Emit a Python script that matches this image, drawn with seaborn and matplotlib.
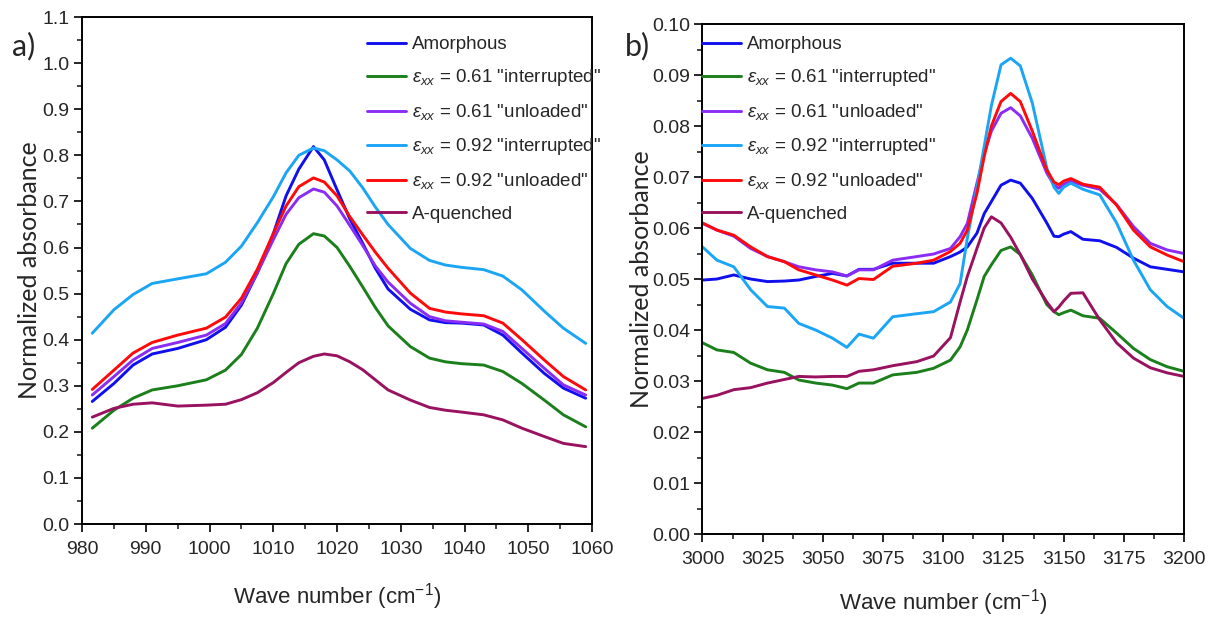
import pandas as pd
import seaborn as sns
import matplotlib.pyplot as plt
from matplotlib import font_manager
from matplotlib.ticker import MultipleLocator

# ---- panel a) 980-1060 cm-1
wn_a = [981.6, 985, 988, 991, 995, 999.5, 1002.5, 1005, 1007.5, 1010, 1012, 1014, 1016.3, 1018, 1020,
        1022, 1024, 1026, 1028, 1031.5, 1034.5, 1037, 1039.5, 1043, 1046, 1049, 1052.5, 1055.5, 1059]
amorphous_a = [0.266, 0.305, 0.345, 0.369, 0.381, 0.400, 0.427, 0.475, 0.545, 0.630, 0.712, 0.770, 0.819,
               0.790, 0.725, 0.662, 0.610, 0.555, 0.510, 0.466, 0.443, 0.437, 0.436, 0.432, 0.410, 0.371,
               0.327, 0.295, 0.273]
int061_a = [0.208, 0.247, 0.273, 0.291, 0.300, 0.313, 0.334, 0.368, 0.425, 0.500, 0.565, 0.607, 0.630,
            0.625, 0.600, 0.559, 0.515, 0.470, 0.430, 0.385, 0.360, 0.352, 0.348, 0.345, 0.331, 0.305,
            0.269, 0.237, 0.211]
unl061_a = [0.280, 0.320, 0.356, 0.381, 0.394, 0.410, 0.435, 0.480, 0.545, 0.617, 0.672, 0.708, 0.727,
            0.720, 0.690, 0.648, 0.605, 0.560, 0.525, 0.479, 0.450, 0.441, 0.438, 0.434, 0.418, 0.381,
            0.338, 0.302, 0.280]
int092_a = [0.414, 0.465, 0.498, 0.522, 0.532, 0.543, 0.568, 0.603, 0.654, 0.710, 0.762, 0.800, 0.816,
            0.810, 0.790, 0.766, 0.730, 0.688, 0.650, 0.598, 0.572, 0.562, 0.557, 0.552, 0.538, 0.508,
            0.462, 0.425, 0.392]
unl092_a = [0.292, 0.334, 0.371, 0.394, 0.410, 0.425, 0.449, 0.490, 0.553, 0.630, 0.690, 0.732, 0.751,
            0.742, 0.712, 0.667, 0.628, 0.590, 0.555, 0.501, 0.468, 0.460, 0.456, 0.452, 0.436, 0.400,
            0.356, 0.320, 0.291]
quench_a = [0.232, 0.251, 0.260, 0.263, 0.256, 0.258, 0.260, 0.270, 0.285, 0.307, 0.329, 0.350, 0.364,
            0.369, 0.365, 0.352, 0.335, 0.313, 0.291, 0.269, 0.253, 0.247, 0.243, 0.237, 0.226, 0.208,
            0.190, 0.175, 0.168]

# ---- panel b) 3000-3200 cm-1
wn_b = [3000, 3006, 3013, 3020, 3027, 3034, 3040, 3047, 3054, 3060, 3065, 3071, 3079, 3089, 3096, 3103,
        3107, 3110, 3114, 3117, 3120, 3124, 3128, 3132, 3137, 3143, 3146, 3148, 3150, 3153, 3158, 3165,
        3172, 3179, 3186, 3193, 3200]
amorphous_b = [0.0498, 0.0500, 0.0508, 0.0500, 0.0495, 0.0496, 0.0498, 0.0505, 0.0511, 0.0506, 0.0519,
               0.0519, 0.0531, 0.0531, 0.0531, 0.0544, 0.0553, 0.0563, 0.0590, 0.0628, 0.0652, 0.0684,
               0.0694, 0.0688, 0.0658, 0.0610, 0.0584, 0.0583, 0.0588, 0.0593, 0.0578, 0.0575, 0.0562,
               0.0541, 0.0524, 0.0519, 0.0514]
int061_b = [0.0375, 0.0361, 0.0356, 0.0335, 0.0322, 0.0317, 0.0302, 0.0296, 0.0292, 0.0285, 0.0296,
            0.0296, 0.0312, 0.0317, 0.0325, 0.0341, 0.0367, 0.0400, 0.0459, 0.0505, 0.0528, 0.0556,
            0.0563, 0.0548, 0.0508, 0.0450, 0.0436, 0.0430, 0.0434, 0.0439, 0.0428, 0.0423, 0.0394,
            0.0364, 0.0342, 0.0328, 0.0319]
unl061_b = [0.0609, 0.0596, 0.0584, 0.0560, 0.0544, 0.0534, 0.0524, 0.0518, 0.0514, 0.0506, 0.0518,
            0.0518, 0.0537, 0.0544, 0.0549, 0.0560, 0.0583, 0.0609, 0.0688, 0.0745, 0.0790, 0.0825,
            0.0836, 0.0820, 0.0776, 0.0708, 0.0684, 0.0678, 0.0686, 0.0692, 0.0684, 0.0676, 0.0646,
            0.0603, 0.0570, 0.0557, 0.0550]
int092_b = [0.0563, 0.0537, 0.0524, 0.0479, 0.0446, 0.0443, 0.0413, 0.0400, 0.0384, 0.0366, 0.0392,
            0.0384, 0.0426, 0.0432, 0.0436, 0.0455, 0.0491, 0.0580, 0.0680, 0.0760, 0.0840, 0.0920,
            0.0933, 0.0918, 0.0845, 0.0718, 0.0680, 0.0668, 0.0680, 0.0688, 0.0676, 0.0665, 0.0610,
            0.0537, 0.0479, 0.0446, 0.0423]
unl092_b = [0.0610, 0.0596, 0.0586, 0.0563, 0.0544, 0.0534, 0.0518, 0.0508, 0.0498, 0.0488, 0.0501,
            0.0499, 0.0525, 0.0531, 0.0537, 0.0554, 0.0570, 0.0596, 0.0668, 0.0740, 0.0800, 0.0848,
            0.0864, 0.0848, 0.0790, 0.0714, 0.0690, 0.0685, 0.0692, 0.0697, 0.0686, 0.0680, 0.0645,
            0.0596, 0.0563, 0.0547, 0.0534]
quench_b = [0.0266, 0.0272, 0.0283, 0.0287, 0.0296, 0.0303, 0.0309, 0.0308, 0.0309, 0.0309, 0.0319,
            0.0322, 0.0330, 0.0338, 0.0349, 0.0385, 0.0455, 0.0505, 0.0560, 0.0600, 0.0622, 0.0610,
            0.0582, 0.0548, 0.0500, 0.0455, 0.0436, 0.0445, 0.0457, 0.0472, 0.0473, 0.0420, 0.0375,
            0.0345, 0.0326, 0.0316, 0.0309]

labels = ['Amorphous',
          r'$\varepsilon_{xx}$ = 0.61 "interrupted"',
          r'$\varepsilon_{xx}$ = 0.61 "unloaded"',
          r'$\varepsilon_{xx}$ = 0.92 "interrupted"',
          r'$\varepsilon_{xx}$ = 0.92 "unloaded"',
          'A-quenched']
colores = ['#1010ee', '#1b7f1b', '#8b2cf5', '#1ba5f5', '#ff0a0a', '#99125f']

sns.set_theme(style='ticks')

# fuente estrecha tipo Arial Narrow si existe
instaladas = {f.name for f in font_manager.fontManager.ttflist}
narrow = 'Liberation Sans Narrow' if 'Liberation Sans Narrow' in instaladas else 'Liberation Sans'
plt.rcParams['font.family'] = [narrow, 'DejaVu Sans']
plt.rcParams['mathtext.fontset'] = 'custom'
plt.rcParams['mathtext.rm'] = narrow
plt.rcParams['mathtext.it'] = narrow + ':italic'
plt.rcParams['mathtext.sf'] = narrow

fig = plt.figure(figsize=(12.12, 6.18), dpi=100)
ax_a = fig.add_axes([0.0677, 0.152, 0.4208, 0.8204])
ax_b = fig.add_axes([0.5796, 0.1359, 0.3973, 0.8252])

paneles = [
    (ax_a, wn_a, [amorphous_a, int061_a, unl061_a, int092_a, unl092_a, quench_a]),
    (ax_b, wn_b, [amorphous_b, int061_b, unl061_b, int092_b, unl092_b, quench_b]),
]

for ax, wn, series in paneles:
    for vals, lab, col in zip(series, labels, colores):
        df = pd.DataFrame({'wn': wn, 'abs': vals})
        sns.lineplot(data=df, x='wn', y='abs', ax=ax, color=col, linewidth=2.1,
                     label=lab, sort=False, estimator=None)

    ax.set_xlabel('Wave number (cm$^{-1}$)', fontsize=16)
    ax.set_ylabel('Normalized absorbance', fontsize=18, family=['Lato', 'DejaVu Sans'])
    ax.tick_params(axis='both', which='major', direction='out', length=6, width=1.4,
                   labelsize=14, top=False, right=False)
    ax.tick_params(axis='both', which='minor', direction='out', length=3.5, width=1.2,
                   top=False, right=False)
    ax.tick_params(axis='x', which='major', pad=6)
    ax.tick_params(axis='y', which='major', pad=3)
    for s in ax.spines.values():
        s.set_linewidth(1.4)
        s.set_color('black')
        s.set_visible(True)

# ejes panel a
ax_a.set_xlim(980, 1060)
ax_a.set_ylim(0, 1.1)
ax_a.xaxis.set_major_locator(MultipleLocator(10))
ax_a.xaxis.set_minor_locator(MultipleLocator(5))
ax_a.yaxis.set_major_locator(MultipleLocator(0.1))
ax_a.yaxis.set_minor_locator(MultipleLocator(0.05))
ax_a.yaxis.set_major_formatter(plt.FormatStrFormatter('%.1f'))
ax_a.xaxis.set_label_coords(0.5, -0.112)
ax_a.yaxis.set_label_coords(-0.080, 0.50)

# ejes panel b
ax_b.set_xlim(3000, 3200)
ax_b.set_ylim(0, 0.10)
ax_b.xaxis.set_major_locator(MultipleLocator(25))
ax_b.xaxis.set_minor_locator(MultipleLocator(12.5))
ax_b.yaxis.set_major_locator(MultipleLocator(0.01))
ax_b.yaxis.set_minor_locator(MultipleLocator(0.005))
ax_b.yaxis.set_major_formatter(plt.FormatStrFormatter('%.2f'))
ax_b.xaxis.set_label_coords(0.5, -0.105)
ax_b.yaxis.set_label_coords(-0.103, 0.50)

# leyendas sin marco
for ax, x0 in [(ax_a, 367 / 1212), (ax_b, 702 / 1212)]:
    ax.legend(loc='upper left', bbox_to_anchor=(x0, 1 - 36 / 618), bbox_transform=fig.transFigure,
              frameon=False, fontsize=13.5, handlelength=2.1, handletextpad=0.3,
              labelspacing=0.75, borderpad=0, borderaxespad=0)

fig.text(12 / 1212, 1 - 46 / 618, 'a)', fontsize=22, family=['Lato', 'DejaVu Sans'], va='center')
fig.text(625 / 1212, 1 - 46 / 618, 'b)', fontsize=22, family=['Lato', 'DejaVu Sans'], va='center')

plt.savefig('out.png', dpi=100)
